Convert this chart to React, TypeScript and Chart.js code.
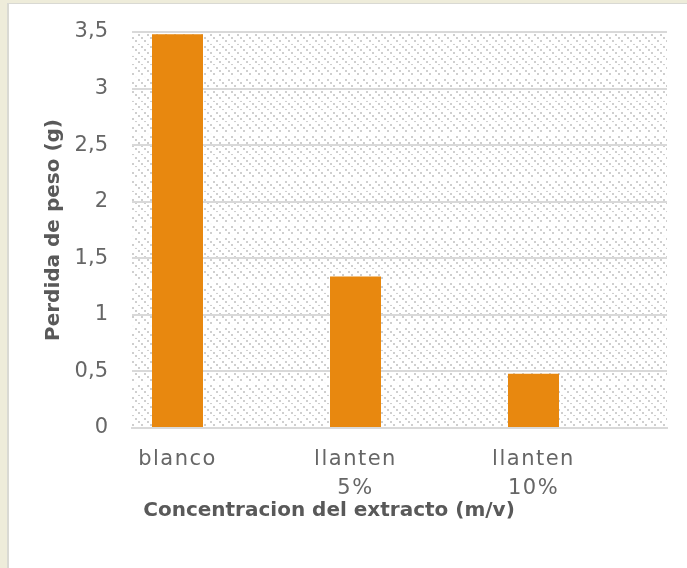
import { useEffect, useRef } from "react";
import { Chart, registerables } from "chart.js";

Chart.register(...registerables);

// Treatments along the horizontal axis (multi-line labels)
const categories: string[][] = [["blanco"], ["llanten", "5%"], ["llanten", "10%"]];
// Weight loss in grams for each treatment
const weightLoss: number[] = [3.48, 1.34, 0.48];
// Value-axis ticks
const yTicks: number[] = [0, 0.5, 1, 1.5, 2, 2.5, 3, 3.5];
const yTitle = "Perdida de peso (g)";
const xTitle = "Concentracion del extracto (m/v)";

const TEXT_GREY = "#595959";
const TICK_GREY = "#666666";
const GRID_GREY = "#d9d9d9";
const BAR_ORANGE = "#E8880F";

// Small tile with diagonal dots used to fill the plot area
function makeHatch(ctx: CanvasRenderingContext2D): CanvasPattern | string {
  const tile = document.createElement("canvas");
  tile.width = 9;
  tile.height = 9;
  const g = tile.getContext("2d");
  if (!g) return "#ffffff";
  g.fillStyle = "#ffffff";
  g.fillRect(0, 0, 9, 9);
  g.fillStyle = "#cfcfcf";
  for (const d of [0, 3, 6]) g.fillRect(d, d, 2, 2);
  return ctx.createPattern(tile, "repeat") || "#ffffff";
}

const plotBackground = {
  id: "plotBackground",
  beforeDraw(chart: any) {
    const { ctx, chartArea, scales } = chart;
    const { left, right, top, bottom } = chartArea;
    ctx.save();
    ctx.fillStyle = makeHatch(ctx);
    ctx.fillRect(left, top, right - left, bottom - top);
    // faint white minor lines every 0.1
    ctx.strokeStyle = "rgba(255,255,255,0.9)";
    ctx.lineWidth = 2;
    const y = scales.y;
    for (let i = 1; i < 35; i++) {
      if (i % 5 === 0) continue;
      const py = Math.round(y.getPixelForValue(i / 10));
      ctx.beginPath();
      ctx.moveTo(left, py);
      ctx.lineTo(right, py);
      ctx.stroke();
    }
    ctx.restore();
  },
};

// Wider letter spacing for the category labels only
const spacedCategoryLabels = {
  id: "spacedCategoryLabels",
  afterLayout(chart: any) {
    const xs = chart.scales.x;
    if (!xs || xs.__spaced) return;
    const original = xs.drawLabels.bind(xs);
    xs.drawLabels = (area: any) => {
      const ctx = chart.ctx;
      ctx.save();
      ctx.letterSpacing = "1.5px";
      original(area);
      ctx.restore();
    };
    xs.__spaced = true;
  },
};

const axisTitles = {
  id: "axisTitles",
  afterDraw(chart: any) {
    const { ctx, chartArea } = chart;
    const { left, top, bottom } = chartArea;
    ctx.save();
    ctx.fillStyle = TEXT_GREY;
    ctx.font = 'bold 20px "DejaVu Sans"';
    ctx.textAlign = "center";
    ctx.textBaseline = "alphabetic";
    ctx.fillText(xTitle, left + 197, bottom + 88);
    ctx.translate(left - 73.5, (top + bottom) / 2);
    ctx.rotate(-Math.PI / 2);
    ctx.fillText(yTitle, 0, 0);
    ctx.restore();
  },
};

export default function App() {
  const ref = useRef<HTMLCanvasElement>(null);

  useEffect(() => {
    if (!ref.current) return;
    const tickFont = { family: '"DejaVu Sans"', size: 21, lineHeight: 1.38 };
    const chart = new Chart(ref.current, {
      type: "bar",
      data: {
        datasets: [
          {
            data: weightLoss.map((v, i) => ({ x: i, y: v })) as any,
            backgroundColor: BAR_ORANGE,
            borderWidth: 0,
            barPercentage: 0.2865,
            categoryPercentage: 1,
          },
        ],
      },
      options: {
        animation: false,
        responsive: false,
        devicePixelRatio: 1,
        layout: { padding: { top: 28, right: 20, left: 0, bottom: 0 } },
        plugins: {
          legend: { display: false },
          tooltip: { enabled: false },
        },
        scales: {
          x: {
            type: "linear",
            offset: false,
            min: -0.2556,
            max: 2.75,
            afterBuildTicks: (s: any) => {
              s.ticks = categories.map((_, i) => ({ value: i }));
            },
            afterFit: (s: any) => {
              s.height = 140;
              s.paddingLeft = 0;
              s.paddingRight = 0;
            },
            ticks: {
              callback: (v: any) => categories[v as number],
              font: tickFont,
              color: TICK_GREY,
              padding: 9,
              maxRotation: 0,
              autoSkip: false,
            },
            grid: { display: false },
            border: { display: true, color: GRID_GREY, width: 2 },
          },
          y: {
            min: 0,
            max: 3.5,
            afterBuildTicks: (s: any) => {
              s.ticks = yTicks.map((v) => ({ value: v }));
            },
            afterFit: (s: any) => {
              s.width = 123;
              s.paddingTop = 0;
              s.paddingBottom = 0;
            },
            ticks: {
              callback: (v: any) => String(v).replace(".", ","),
              font: tickFont,
              color: TICK_GREY,
              padding: 24,
            },
            grid: { color: GRID_GREY, lineWidth: 2, drawTicks: false },
            border: { display: false },
          },
        },
      },
      plugins: [plotBackground, spacedCategoryLabels, axisTitles],
    });
    return () => chart.destroy();
  }, []);

  return (
    <div
      style={{
        position: "fixed",
        left: 0,
        top: 0,
        width: 687,
        height: 568,
        background: "#EEECDA",
        overflow: "hidden",
      }}
    >
      <div
        style={{
          position: "absolute",
          left: 7,
          top: 3,
          right: 0,
          bottom: 0,
          background: "#ffffff",
          borderLeft: "2px solid #d9d9d3",
          borderTop: "1px solid #d9d9d3",
        }}
      />
      <canvas
        ref={ref}
        width={678}
        height={564}
        style={{ position: "absolute", left: 9, top: 4 }}
      />
    </div>
  );
}
